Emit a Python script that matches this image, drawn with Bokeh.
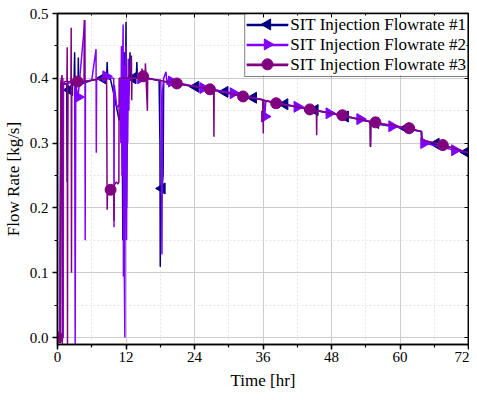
import math
from bokeh.plotting import figure
from bokeh.models import (Range1d, LinearAxis, SingleIntervalTicker, NumeralTickFormatter,
                          Legend, LegendItem, ColumnDataSource)
from bokeh.embed import file_html
from bokeh.resources import INLINE

# ---- data ----
T1 = [0.0, 0.4, 0.6, 1.6, 1.7, 1.8, 2.1, 2.9, 3.0, 3.1, 3.15, 3.6, 3.65, 3.7, 6.0, 7.9, 8.6, 8.7, 8.8, 9.3,
      10.0, 10.8, 11.3, 11.45, 11.5, 11.6, 11.75, 11.9, 12.0, 12.1, 12.3, 12.6, 12.7, 12.8, 13.2, 13.8,
      13.9, 14.0, 15.0, 17.8, 17.95, 18.0, 18.1, 18.3, 18.5, 18.6, 20.0, 24.0, 27.0, 30.0, 33.0, 36.0,
      36.05, 36.1, 39.0, 42.0, 45.0, 48.0, 51.0, 54.0, 54.8, 54.85, 54.9, 57.0, 60.0, 63.7, 63.8, 66.0,
      69.0, 72.0]
Y1 = [0.0, 0.004, 0.39, 0.392, 0.24, 0.39, 0.382, 0.395, 0.44, 0.366, 0.395, 0.395, 0.432, 0.39, 0.397,
      0.40, 0.40, 0.425, 0.40, 0.398, 0.37, 0.335, 0.37, 0.15, 0.40, 0.30, 0.44, 0.35, 0.487, 0.20, 0.40,
      0.40, 0.44, 0.40, 0.40, 0.40, 0.425, 0.40, 0.402, 0.396, 0.30, 0.109, 0.20, 0.23, 0.25, 0.395, 0.393,
      0.387, 0.383, 0.378, 0.372, 0.367, 0.335, 0.366, 0.361, 0.356, 0.351, 0.346, 0.34, 0.334, 0.333,
      0.294, 0.332, 0.328, 0.324, 0.318, 0.305, 0.300, 0.293, 0.285]
M1T = [0.0, 2.1, 7.9, 13.2, 18.3, 24.2, 29.3, 34.3, 39.8, 45.1, 50.4, 55.7, 61.0, 66.3, 71.6]
M1Y = [0.0, 0.382, 0.40, 0.40, 0.23, 0.387, 0.379, 0.370, 0.360, 0.351, 0.341, 0.331, 0.323, 0.299, 0.286]

T2 = [0.0, 0.4, 0.6, 0.95, 1.0, 1.05, 3.0, 3.1, 3.2, 3.6, 4.8, 4.85, 4.9, 6.0, 6.75, 6.8, 6.85, 8.5, 9.4,
      9.85, 9.9, 9.95, 10.4, 10.9, 11.0, 11.1, 11.2, 11.3, 11.4, 11.5, 11.55, 11.6, 11.7, 11.8, 11.85,
      11.9, 12.0, 12.1, 12.2, 12.3, 12.4, 12.5, 12.6, 13.0, 14.6, 18.1, 18.2, 18.3, 18.4, 18.6, 19.0,
      19.2, 19.5, 20.0, 25.5, 30.8, 36.1, 36.3, 36.5, 42.0, 47.6, 53.0, 58.6, 63.8, 63.9, 64.2, 69.6, 72.0]
Y2 = [0.0, 0.004, 0.392, 0.40, 0.0, 0.39, 0.395, -0.01, 0.39, 0.371, 0.49, 0.15, 0.396, 0.397, 0.445,
      0.285, 0.398, 0.403, 0.40, 0.40, 0.17, 0.39, 0.355, 0.36, 0.40, 0.30, 0.45, 0.25, 0.42, 0.483, 0.094,
      0.44, 0.10, 0.0, 0.42, 0.20, 0.45, 0.15, 0.40, 0.30, 0.43, 0.35, 0.40, 0.40, 0.40, 0.397, 0.30,
      0.128, 0.38, 0.40, 0.41, 0.39, 0.40, 0.395, 0.385, 0.377, 0.366, 0.341, 0.365, 0.356, 0.346, 0.337,
      0.326, 0.318, 0.305, 0.30, 0.289, 0.285]
M2T = [3.6, 8.5, 14.6, 20.0, 25.5, 30.8, 36.3, 42.0, 47.6, 53.0, 58.6, 64.2, 69.6]
M2Y = [0.371, 0.403, 0.40, 0.395, 0.385, 0.377, 0.341, 0.356, 0.346, 0.337, 0.326, 0.30, 0.289]

T3 = [0.0, 0.5, 0.6, 0.8, 0.85, 0.9, 1.3, 1.65, 1.7, 1.75, 1.8, 2.35, 2.4, 2.45, 2.5, 3.5, 4.65, 4.7, 4.75,
      6.0, 8.6, 8.7, 8.8, 9.0, 9.3, 9.6, 9.85, 9.9, 9.95, 10.3, 10.6, 10.75, 10.8, 11.5, 12.5, 12.95, 13.0,
      13.05, 14.0, 14.75, 14.8, 15.0, 15.35, 15.4, 15.75, 15.8, 15.85, 17.0, 20.9, 26.7, 27.35, 27.4,
      27.45, 32.5, 36.0, 36.05, 36.1, 38.3, 44.2, 45.35, 45.4, 45.45, 49.9, 54.75, 54.8, 54.85, 55.7,
      61.6, 63.75, 63.85, 67.5, 72.0]
Y3 = [0.0, 0.0, 0.395, 0.405, -0.01, 0.39, 0.395, 0.395, 0.448, -0.01, 0.395, 0.395, 0.478, 0.10, 0.395,
      0.395, 0.395, 0.49, 0.395, 0.397, 0.40, 0.197, 0.235, 0.225, 0.228, 0.23, 0.235, 0.18, 0.235, 0.24,
      0.237, 0.24, 0.40, 0.40, 0.40, 0.435, 0.366, 0.40, 0.40, 0.40, 0.415, 0.403, 0.40, 0.423, 0.35,
      0.40, 0.40, 0.398, 0.392, 0.383, 0.382, 0.31, 0.381, 0.372, 0.367, 0.315, 0.366, 0.3615, 0.352,
      0.35, 0.312, 0.35, 0.343, 0.333, 0.295, 0.332, 0.332, 0.323, 0.318, 0.305, 0.297, 0.285]
M3T = [0.0, 3.5, 9.3, 15.0, 20.9, 26.7, 32.5, 38.3, 44.2, 49.9, 55.7, 61.6, 67.5]
M3Y = [0.0, 0.395, 0.228, 0.403, 0.392, 0.383, 0.372, 0.3615, 0.352, 0.343, 0.332, 0.323, 0.297]

LABELS = ["SIT Injection Flowrate #1", "SIT Injection Flowrate #2", "SIT Injection Flowrate #3"]
X_LABEL = "Time [hr]"
Y_LABEL = "Flow Rate [kg/s]"

FONT = "Liberation Serif"
COLORS = ["#000080", "#8000FF", "#800080"]

# ---- layout ----
W, H = 469, 392
BL, BR, BT, BB = 55, 1, 13, 47
FW, FH = W - BL - BR, H - BT - BB
X0, X1 = 0, 72
Y0, Y1R = -0.0108, 0.5

p = figure(width=W, height=H, x_range=Range1d(X0, X1), y_range=Range1d(Y0, Y1R),
           output_backend="svg", toolbar_location=None,
           min_border_left=BL, min_border_right=BR, min_border_top=BT, min_border_bottom=BB)
p.outline_line_color = "black"
p.outline_line_width = 1.5
p.background_fill_color = "white"

xt = SingleIntervalTicker(interval=12, num_minor_ticks=2)
yt = SingleIntervalTicker(interval=0.1, num_minor_ticks=2)
p.xaxis.ticker = xt
p.yaxis.ticker = yt
p.xgrid.ticker = xt
p.ygrid.ticker = yt
p.yaxis.formatter = NumeralTickFormatter(format="0.0")

for g in (p.xgrid, p.ygrid):
    g.grid_line_color = "#cccccc"
    g.grid_line_width = 1
    g.minor_grid_line_color = "#e4e4e4"
    g.minor_grid_line_dash = "2 2"

for ax in (p.xaxis, p.yaxis):
    ax.axis_line_color = "black"
    ax.axis_line_width = 1.5
    ax.major_tick_line_width = 1.5
    ax.minor_tick_line_width = 1.2
    ax.major_tick_out = 5
    ax.major_tick_in = 0
    ax.minor_tick_out = 3
    ax.minor_tick_in = 0
    ax.major_label_text_font = FONT
    ax.major_label_text_font_size = "15px"
    ax.major_label_text_color = "black"
    ax.axis_label_text_font = FONT
    ax.axis_label_text_font_size = "17px"
    ax.axis_label_text_font_style = "normal"
    ax.axis_label_text_color = "black"
p.xaxis.axis_label = X_LABEL
p.yaxis.axis_label = Y_LABEL
p.xaxis.major_label_standoff = 2
p.xaxis.axis_label_standoff = 6
p.yaxis.major_label_standoff = 4
p.yaxis.axis_label_standoff = 4

top = LinearAxis(ticker=SingleIntervalTicker(interval=12, num_minor_ticks=2),
                 major_label_text_font_size="0px", major_tick_in=4, major_tick_out=0,
                 minor_tick_in=2, minor_tick_out=0, axis_line_width=1.5, major_label_standoff=0)
right = LinearAxis(ticker=SingleIntervalTicker(interval=0.1, num_minor_ticks=2),
                   major_label_text_font_size="0px", major_tick_in=4, major_tick_out=0,
                   minor_tick_in=2, minor_tick_out=0, axis_line_width=1.5, major_label_standoff=0)
p.add_layout(top, "above")
p.add_layout(right, "right")

# legend geometry (px)
LEG_PAD, GLYPH_W, ROW_H, LABEL_W = 1, 42, 20, 178
leg_w = 2 * LEG_PAD + GLYPH_W + 2 + LABEL_W
leg_h = 2 * LEG_PAD + 3 * ROW_H


def to_data(px, py):
    return X0 + px / FW * (X1 - X0), Y1R - py / FH * (Y1R - Y0)


items = []
series = [(T1, Y1, M1T, M1Y, "triangle", math.pi / 2),
          (T2, Y2, M2T, M2Y, "triangle", -math.pi / 2),
          (T3, Y3, M3T, M3Y, "circle", 0.0)]
for (t, y, mt, my, mk, ang), col, lab in zip(series, COLORS, LABELS):
    lr = p.line(t, y, line_color=col, line_width=1.5)
    src = ColumnDataSource(data=dict(x=mt, y=my, a=[ang] * len(mt)))
    p.scatter("x", "y", source=src, marker=mk, angle="a", size=11,
              fill_color=col, line_color=col)
    items.append(LegendItem(label=lab, renderers=[lr]))

# white backing for the legend box (legend itself is transparent so the
# rotated legend symbols below can show through)
bl, bb = to_data(FW - leg_w, leg_h)
p.quad(left=[bl], right=[X1], bottom=[bb], top=[Y1R], fill_color="white", line_color=None)
for i, ((t, y, mt, my, mk, ang), col) in enumerate(zip(series, COLORS)):
    lx, ly = to_data(FW - leg_w + LEG_PAD + GLYPH_W / 2, LEG_PAD + ROW_H / 2 + i * ROW_H)
    p.line(*zip(to_data(FW - leg_w + LEG_PAD, LEG_PAD + ROW_H / 2 + i * ROW_H),
                to_data(FW - leg_w + LEG_PAD + GLYPH_W, LEG_PAD + ROW_H / 2 + i * ROW_H)),
           line_color=col, line_width=1.5)
    p.scatter([lx], [ly], marker=mk, angle=ang, size=11, fill_color=col, line_color=col)

legend = Legend(items=items, location="top_right", margin=0, padding=LEG_PAD, spacing=0,
                glyph_width=GLYPH_W, glyph_height=ROW_H, label_height=ROW_H, label_standoff=2,
                label_text_font=FONT, label_text_font_size="17px", label_text_color="black",
                border_line_color="black", border_line_width=1, background_fill_alpha=0)
p.add_layout(legend)

open("out.html", "w").write(file_html(p, INLINE))
